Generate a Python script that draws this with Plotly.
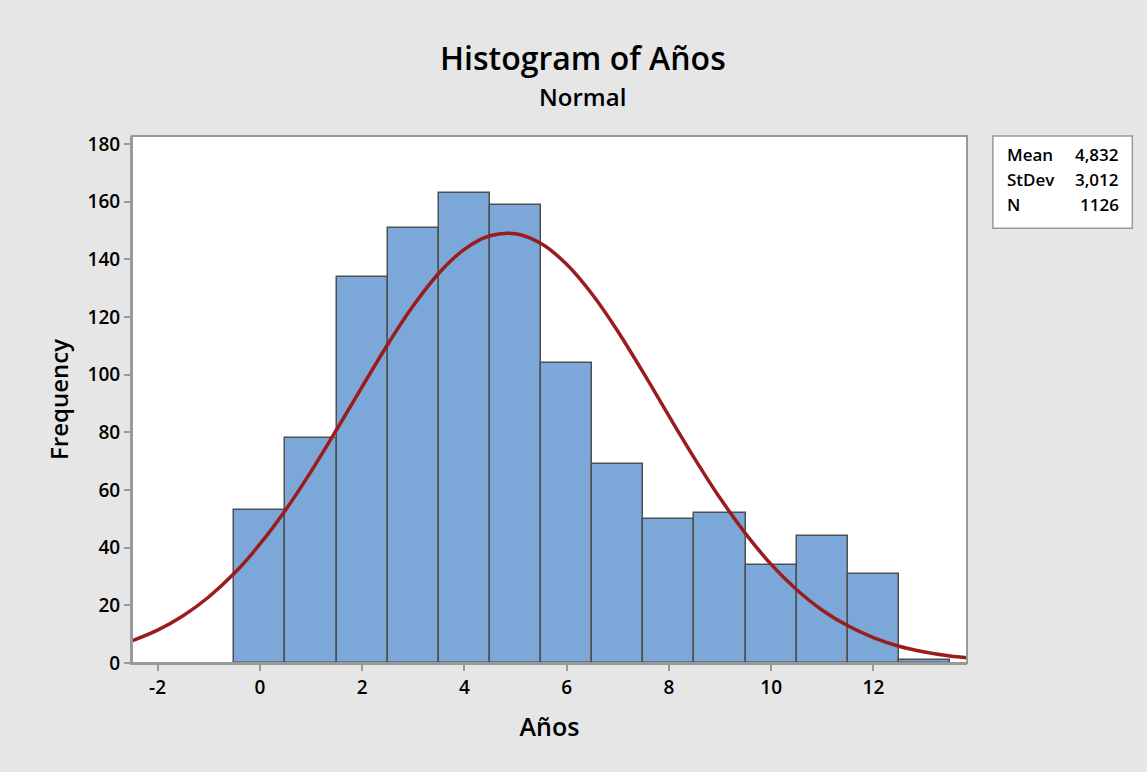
import plotly.graph_objects as go

# bin centres and counts
bin_centers = [0, 1, 2, 3, 4, 5, 6, 7, 8, 9, 10, 11, 12, 13]
counts = [53, 78, 134, 151, 163, 159, 104, 69, 50, 52, 34, 44, 31, 1]

# fitted normal curve
curve_x = [-2.5, -2, -1.5, -1, -0.5, 0, 0.5, 1, 1.5, 2, 2.5, 3, 3.5, 4, 4.5,
           5, 5.5, 6, 6.5, 7, 7.5, 8, 8.5, 9, 9.5, 10, 10.5, 11, 11.5, 12,
           12.5, 13, 13.5, 13.83]
curve_y = [7.7, 11.4, 16.4, 22.9, 31.1, 41.2, 53.0, 66.4, 80.9, 95.8, 110.5,
           123.9, 135.2, 143.5, 148.2, 148.9, 145.5, 138.3, 127.9, 115.1,
           100.7, 85.7, 71.0, 57.2, 44.9, 34.2, 25.4, 18.3, 12.9, 8.8, 5.8,
           3.8, 2.4, 1.8]

x_ticks = [-2, 0, 2, 4, 6, 8, 10, 12]
x_tick_labels = ["-2", "0", "2", "4", "6", "8", "10", "12"]
y_ticks = [0, 20, 40, 60, 80, 100, 120, 140, 160, 180]

stat_labels = ["Mean", "StDev", "N"]
stat_values = ["4,832", "3,012", "1126"]

FONT = "Open Sans"

fig = go.Figure()
fig.add_trace(go.Bar(
    x=bin_centers, y=counts, width=1,
    marker=dict(color="#7ba7d9", line=dict(color="#4f4f4f", width=1.5)),
    showlegend=False
))
fig.add_trace(go.Scatter(
    x=curve_x, y=curve_y, mode="lines", line_shape="spline",
    line=dict(color="#9b1c1c", width=3.5),
    showlegend=False
))

fig.update_layout(
    width=1147, height=772,
    margin=dict(l=132, r=180, t=136, b=109),
    paper_bgcolor="#e6e6e6", plot_bgcolor="white",
    font=dict(family=FONT, color="black"),
    bargap=0,
    xaxis=dict(
        range=[-2.5, 13.83], tickvals=x_ticks, ticktext=x_tick_labels,
        showgrid=False, zeroline=False, showline=True, linecolor="#999999",
        linewidth=2, ticks="outside", tickcolor="#999999", ticklen=6, tickwidth=2,
        tickfont=dict(size=19, weight=600),
        title=dict(text="Años", font=dict(size=25, weight=600), standoff=20),
    ),
    yaxis=dict(
        range=[0, 182.8], tickvals=y_ticks,
        showgrid=False, zeroline=False, showline=True, linecolor="#999999",
        linewidth=2, ticks="outside", tickcolor="#999999", ticklen=6, tickwidth=2,
        tickfont=dict(size=19, weight=600),
        title=dict(text="Frequency", font=dict(size=24, weight=600), standoff=12),
    ),
)

# plot frame (top and right edges)
fig.add_shape(type="rect", xref="paper", yref="paper", x0=0, y0=0, x1=1, y1=1,
              line=dict(color="#999999", width=2), layer="above")

fig.add_annotation(text="Histogram of Años", xref="paper", yref="paper",
                   x=0.54, y=1.0, yanchor="middle", yshift=79, showarrow=False,
                   font=dict(size=32, weight=600))
fig.add_annotation(text="Normal", xref="paper", yref="paper",
                   x=0.54, y=1.0, yanchor="middle", yshift=40, showarrow=False,
                   font=dict(size=24, weight=600))

# stats box
fig.add_shape(type="rect", xref="paper", yref="paper",
              x0=1.031, x1=1.198, y0=0.825, y1=1.0,
              fillcolor="white", line=dict(color="#999999", width=1.5))
for i, (lab, val) in enumerate(zip(stat_labels, stat_values)):
    yy = 0.964 - i * 0.0474
    fig.add_annotation(text=lab, xref="paper", yref="paper", x=1.045, y=yy,
                       xanchor="left", yanchor="middle", showarrow=False,
                       font=dict(size=17, weight=600))
    fig.add_annotation(text=val, xref="paper", yref="paper", x=1.184, y=yy,
                       xanchor="right", yanchor="middle", showarrow=False,
                       font=dict(size=17, weight=600))

fig.write_html("out.html", config={"displayModeBar": False},
               post_script="document.body.style.margin='0';")
